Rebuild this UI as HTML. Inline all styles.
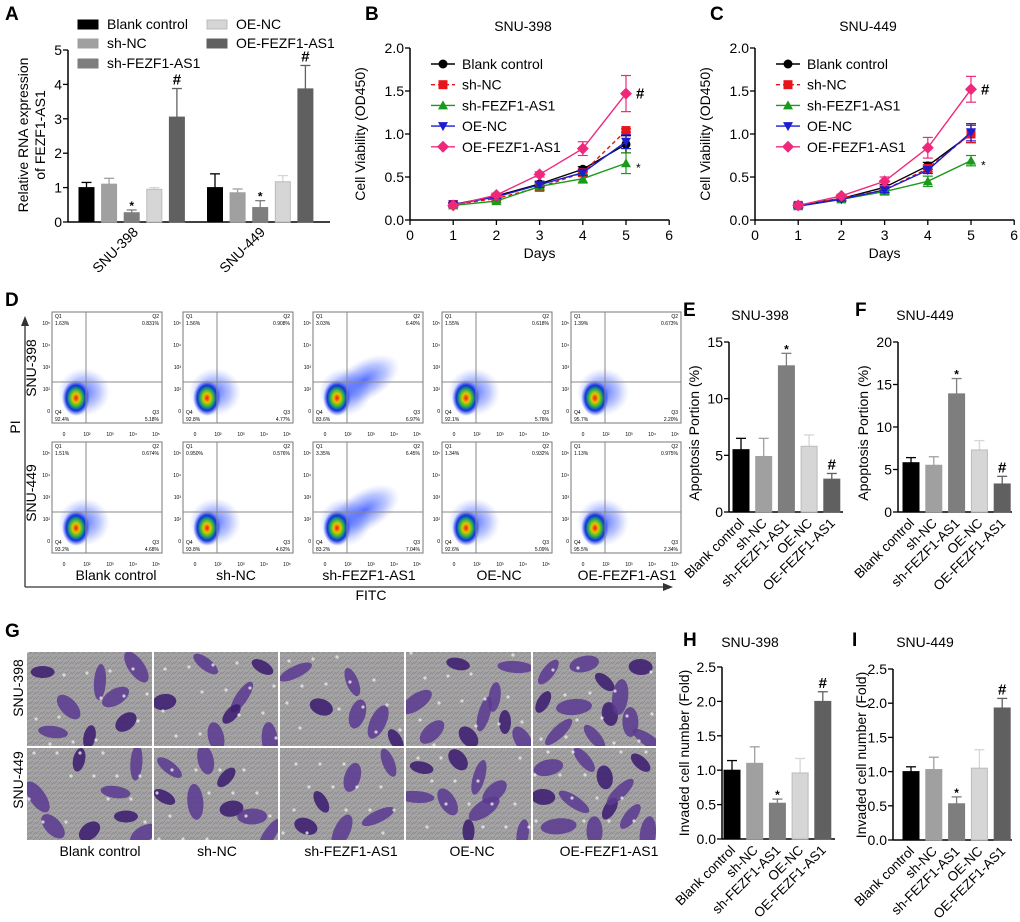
<!DOCTYPE html>
<html><head><meta charset="utf-8"><style>
body{margin:0;background:#fff}
svg{display:block;font-family:"Liberation Sans",sans-serif}
</style></head><body>
<svg id="fig" width="1020" height="922" viewBox="0 0 1020 922">
<defs>
<radialGradient id="dens" cx="50%" cy="50%" r="50%">
<stop offset="0" stop-color="#e02010"/><stop offset="0.25" stop-color="#f0c000"/><stop offset="0.45" stop-color="#30c040"/><stop offset="0.7" stop-color="#1030e0"/><stop offset="1" stop-color="#4060ff" stop-opacity="0"/>
</radialGradient>
<radialGradient id="cloud" cx="50%" cy="50%" r="50%">
<stop offset="0" stop-color="#2040ff" stop-opacity="0.75"/><stop offset="0.6" stop-color="#4060ff" stop-opacity="0.35"/><stop offset="1" stop-color="#8090ff" stop-opacity="0"/>
</radialGradient>
<pattern id="tex" width="6" height="5" patternUnits="userSpaceOnUse">
<rect width="6" height="5" fill="#a6a3a8"/><path d="M0 4 L3 1 M3 5 L6 2" stroke="#868a80" stroke-width="0.8"/>
</pattern>
</defs>
</svg>
<script>
// ---------- data ----------
const groups = ['Blank control','sh-NC','sh-FEZF1-AS1','OE-NC','OE-FEZF1-AS1'];
const barColors = ['#000000','#a0a0a0','#7e7e7e','#d6d6d6','#606060'];
const lineColors = ['#000000','#e8141c','#1a9a1a','#1c1cd0','#f0287c'];
const cellLines = ['SNU-398','SNU-449'];
const aVals398 = [1.0,1.1,0.27,0.95,3.05];
const aErr398 = [0.15,0.17,0.08,0.05,0.83];
const aVals449 = [1.0,0.85,0.42,1.17,3.87];
const aErr449 = [0.4,0.11,0.2,0.18,0.68];
const aTicks = [0,1,2,3,4,5];
const days = [1,2,3,4,5];
const dayTicks = [0,1,2,3,4,5,6];
const odTicks = [0,0.5,1.0,1.5,2.0];
const bBlank=[0.18,0.28,0.42,0.59,0.88], bShNC=[0.18,0.25,0.38,0.55,1.04], bShF=[0.17,0.22,0.39,0.48,0.66], bOeNC=[0.18,0.27,0.41,0.55,0.91], bOeF=[0.17,0.29,0.53,0.83,1.47];
const bErr=[[0.02,0.02,0.03,0.03,0.1],[0.02,0.02,0.04,0.04,0.02],[0.02,0.02,0.03,0.05,0.12],[0.02,0.02,0.03,0.03,0.08],[0.02,0.02,0.03,0.08,0.21]];
const cBlank=[0.17,0.25,0.38,0.63,1.0], cShNC=[0.17,0.25,0.35,0.6,1.0], cShF=[0.16,0.24,0.33,0.45,0.69], cOeNC=[0.16,0.24,0.35,0.58,1.02], cOeF=[0.17,0.28,0.45,0.84,1.52];
const cErr=[[0.02,0.02,0.03,0.04,0.1],[0.02,0.02,0.03,0.04,0.1],[0.02,0.02,0.03,0.06,0.06],[0.02,0.02,0.03,0.04,0.1],[0.02,0.02,0.05,0.12,0.15]];
const eVals=[5.5,4.9,12.9,5.8,2.9], eErr=[1.0,1.6,1.1,1.0,0.5], eTicks=[0,5,10,15];
const fVals=[5.8,5.5,13.9,7.3,3.3], fErr=[0.6,1.0,1.8,1.1,0.9], fTicks=[0,5,10,15,20];
const hVals=[1.0,1.1,0.52,0.96,2.0], hErr=[0.14,0.24,0.06,0.21,0.14];
const iVals=[1.0,1.03,0.53,1.05,1.93], iErr=[0.07,0.18,0.1,0.27,0.14];
const invTicks=[0,0.5,1.0,1.5,2.0,2.5], invTickLabels=['0.0','0.5','1.0','1.5','2.0','2.5'];
const marks=['','','*','','#'];
const flowQ1_398=['1.63%','1.56%','3.03%','1.55%','1.39%'], flowQ2_398=['0.831%','0.908%','6.40%','0.618%','0.673%'], flowQ3_398=['5.18%','4.77%','6.97%','5.76%','2.20%'], flowQ4_398=['92.4%','92.8%','83.6%','92.1%','95.7%'];
const flowQ1_449=['1.51%','0.950%','3.35%','1.34%','1.13%'], flowQ2_449=['0.674%','0.576%','6.45%','0.932%','0.975%'], flowQ3_449=['4.68%','4.62%','7.04%','5.09%','2.34%'], flowQ4_449=['93.2%','93.8%','83.2%','92.6%','95.5%'];

// ---------- helpers ----------
const NS='http://www.w3.org/2000/svg';
const svg=document.getElementById('fig');
function el(tag,attrs,parent,text){const e=document.createElementNS(NS,tag);for(const k in attrs)e.setAttribute(k,attrs[k]);if(text!==undefined)e.textContent=text;(parent||svg).appendChild(e);return e;}
function txt(x,y,s,size,anchor,parent,extra){const t=el('text',Object.assign({x:x,y:y,'font-size':size,'text-anchor':anchor||'start'},extra||{}),parent,s);return t;}
function panelLabel(x,y,s){const t=txt(x,y,s,19,'start',null,{'font-weight':'bold'});}

function barPanel(name,o){
  const g=el('g',{});
  
  
  const y=v=>o.y0-(v/o.ymax)*(o.y0-o.yTop);
  el('line',{x1:o.ax,y1:o.yTop,x2:o.ax,y2:o.y0,stroke:'#000','stroke-width':1.5},g);
  el('line',{x1:o.ax,y1:o.y0,x2:o.xEnd,y2:o.y0,stroke:'#000','stroke-width':1.5},g);
  o.ticks.forEach((t,i)=>{el('line',{x1:o.ax-5,y1:y(t),x2:o.ax,y2:y(t),stroke:'#000','stroke-width':1.3},g);
    const tl=txt(o.ax-6,y(t)+5,o.tickLabels?o.tickLabels[i]:String(t),14,'end',g);});
  o.vals.forEach((v,i)=>{
    const cx=o.cx0+i*o.dx;
    const top=y(v+o.errs[i]);
    el('line',{x1:cx,y1:y(v),x2:cx,y2:top,stroke:barColors[i],'stroke-width':1.3},g);
    el('line',{x1:cx-5,y1:top,x2:cx+5,y2:top,stroke:barColors[i],'stroke-width':1.3},g);
    const r=el('rect',{x:cx-o.bw/2,y:y(v),width:o.bw,height:o.y0-y(v),fill:barColors[i],stroke:i==3?'#bbb':barColors[i],'stroke-width':1},g);
    
    
    if(marks[i]){const m=txt(cx,top-4+(marks[i]=='*'?4:0),marks[i],marks[i]=='*'?12:15,'middle',g,{'font-weight':'bold'});}
    if(o.xlabels){const lx=cx+4,ly=o.y0+12;const t=txt(lx,ly,groups[i],13.5,'end',g,{transform:'rotate(-45 '+lx+' '+ly+')'});}
  });
  if(o.title){const t=txt(o.titleX,o.titleY,o.title,14,'middle',g);}
  const yl=txt(o.ylx,o.yly,o.ylabel,14,'middle',g,{transform:'rotate(-90 '+o.ylx+' '+o.yly+')'});
}

// Panel A
panelLabel(5,20,'A');
(function(){
  const g=el('g',{});
  const ax=68,y0=222,yTop=50,ymax=5;const y=v=>y0-(v/ymax)*(y0-yTop);
  el('line',{x1:ax,y1:yTop,x2:ax,y2:y0,stroke:'#000','stroke-width':1.5},g);
  el('line',{x1:ax,y1:y0,x2:330,y2:y0,stroke:'#000','stroke-width':1.5},g);
  aTicks.forEach(t=>{el('line',{x1:ax-5,y1:y(t),x2:ax,y2:y(t),stroke:'#000','stroke-width':1.3},g);const tl=txt(ax-6,y(t)+5,String(t),14,'end',g);});
  [[aVals398,aErr398,86.5],[aVals449,aErr449,215]].forEach((set,gi)=>{
    set[0].forEach((v,i)=>{const cx=set[2]+i*22.6,top=y(v+set[1][i]);
      el('line',{x1:cx,y1:y(v),x2:cx,y2:top,stroke:barColors[i],'stroke-width':1.3},g);
      el('line',{x1:cx-5,y1:top,x2:cx+5,y2:top,stroke:barColors[i],'stroke-width':1.3},g);
      const r=el('rect',{x:cx-7.5,y:y(v),width:15,height:y0-y(v),fill:barColors[i],stroke:i==3?'#bbb':barColors[i]},g);
      
      if(marks[i]){const m=txt(cx,top-4+(marks[i]=='*'?4:0),marks[i],marks[i]=='*'?12:15,'middle',g,{'font-weight':'bold'});}
    });
    const lx=gi?266:139,ly=233;const t=txt(lx,ly,cellLines[gi],14,'end',g,{transform:'rotate(-45 '+lx+' '+ly+')'});
  });
  const yl1=txt(28,135,'Relative RNA expression',14,'middle',g,{transform:'rotate(-90 28 135)'});
  const yl2=txt(45,135,'of FEZF1-AS1',14,'middle',g,{transform:'rotate(-90 45 135)'});
  const pos=[[78,24],[78,43],[78,63],[207,24],[207,43]];
  groups.forEach((n,i)=>{const lg=el('g',{},g);
    el('rect',{x:pos[i][0],y:pos[i][1]-4,width:20,height:9,fill:barColors[i],stroke:i==3?'#bbb':barColors[i]},lg);
    txt(pos[i][0]+29,pos[i][1]+5,n,14,'start',lg);});
})();

function linePanel(name,o){
  const g=el('g',{});
  const x=d=>o.ax+d*43.2,y=v=>220-v*86;
  el('line',{x1:o.ax,y1:48,x2:o.ax,y2:220,stroke:'#000','stroke-width':1.5},g);
  el('line',{x1:o.ax,y1:220,x2:x(6),y2:220,stroke:'#000','stroke-width':1.5},g);
  odTicks.forEach(t=>{el('line',{x1:o.ax-5,y1:y(t),x2:o.ax,y2:y(t),stroke:'#000','stroke-width':1.3},g);const tl=txt(o.ax-6,y(t)+5,t.toFixed(1),14,'end',g);});
  dayTicks.forEach(t=>{el('line',{x1:x(t),y1:220,x2:x(t),y2:225,stroke:'#000','stroke-width':1.3},g);const tl=txt(x(t),240,String(t),14,'middle',g);});
  const xt=txt(x(3),258,'Days',14,'middle',g);
  const yl=txt(o.ax-45,134,'Cell Viability (OD450)',14,'middle',g,{transform:'rotate(-90 '+(o.ax-45)+' 134)'});
  const tt=txt(o.ax+113,31,o.title,14,'middle',g);
  function marker(k,cx,cy,c,p){if(k==0)el('circle',{cx:cx,cy:cy,r:4.5,fill:c},p);else if(k==1)el('rect',{x:cx-4.5,y:cy-4.5,width:9,height:9,fill:c},p);else if(k==2)el('path',{d:`M${cx} ${cy-5}L${cx+5} ${cy+4}L${cx-5} ${cy+4}Z`,fill:c},p);else if(k==3)el('path',{d:`M${cx} ${cy+5}L${cx+5} ${cy-4}L${cx-5} ${cy-4}Z`,fill:c},p);else el('path',{d:`M${cx} ${cy-6}L${cx+6} ${cy}L${cx} ${cy+6}L${cx-6} ${cy}Z`,fill:c},p);}
  o.series.forEach((s,k)=>{const sg=el('g',{},g);
    el('polyline',{points:s.map((v,i)=>x(days[i])+','+y(v)).join(' '),fill:'none',stroke:lineColors[k],'stroke-width':1.4,'stroke-dasharray':k==1?'4 3':'none'},sg);
    s.forEach((v,i)=>{const e=o.errs[k][i];el('line',{x1:x(days[i]),y1:y(v-e),x2:x(days[i]),y2:y(v+e),stroke:lineColors[k],'stroke-width':1.2},sg);
      el('line',{x1:x(days[i])-5,y1:y(v+e),x2:x(days[i])+5,y2:y(v+e),stroke:lineColors[k],'stroke-width':1.2},sg);
      el('line',{x1:x(days[i])-5,y1:y(v-e),x2:x(days[i])+5,y2:y(v-e),stroke:lineColors[k],'stroke-width':1.2},sg);
      marker(k,x(days[i]),y(v),lineColors[k],sg);});
    const ly=64+k*20.7,lx=o.ax+33;const lg=el('g',{},g);
    el('line',{x1:lx-12,y1:ly,x2:lx+12,y2:ly,stroke:lineColors[k],'stroke-width':1.4,'stroke-dasharray':k==1?'4 3':'none'},lg);marker(k,lx,ly,lineColors[k],lg);txt(lx+19,ly+5,groups[k],14,'start',lg);
  });
  const h=txt(x(5)+10,y(o.series[4][4])+5,'#',15,'start',g,{'font-weight':'bold'});
  const st=txt(x(5)+10,y(o.series[2][4])+9,'*',12,'start',g);
}
panelLabel(365,20,'B');panelLabel(710,20,'C');
linePanel('panel-b-viability-snu398',{ax:410,title:'SNU-398',series:[bBlank,bShNC,bShF,bOeNC,bOeF],errs:bErr});
linePanel('panel-c-viability-snu449',{ax:755,title:'SNU-449',series:[cBlank,cShNC,cShF,cOeNC,cOeF],errs:cErr});

// Panel D flow
panelLabel(5,306,'D');
(function(){
  const g=el('g',{});
  const bx=[52,183,313,442,571],by=[312,442],bw=110,bh=111;
  const q=[[flowQ1_398,flowQ2_398,flowQ3_398,flowQ4_398],[flowQ1_449,flowQ2_449,flowQ3_449,flowQ4_449]];
  by.forEach((yy,r)=>bx.forEach((xx,c)=>{
    const p=el('g',{},g);
    el('rect',{x:xx,y:yy,width:bw,height:bh,fill:'#fff',stroke:'#777','stroke-width':1},p);
    el('ellipse',{cx:xx+32,cy:yy+80,rx:26,ry:24,fill:'url(#cloud)'},p);
    if(c==2) el('ellipse',{cx:xx+52,cy:yy+68,rx:38,ry:20,fill:'url(#cloud)',transform:`rotate(-30 ${xx+52} ${yy+68})`},p);
    el('ellipse',{cx:xx+24,cy:yy+86,rx:14,ry:18,fill:'url(#dens)'},p);
    el('line',{x1:xx+34,y1:yy,x2:xx+34,y2:yy+bh,stroke:'#888'},p);
    el('line',{x1:xx,y1:yy+70,x2:xx+bw,y2:yy+70,stroke:'#888'},p);
    txt(xx+3,yy+6,'Q1',5,'start',p);txt(xx+3,yy+13,q[r][0][c],5,'start',p);
    txt(xx+bw-3,yy+6,'Q2',5,'end',p);txt(xx+bw-3,yy+13,q[r][1][c],5,'end',p);
    txt(xx+bw-3,yy+102,'Q3',5,'end',p);txt(xx+bw-3,yy+109,q[r][2][c],5,'end',p);
    txt(xx+3,yy+102,'Q4',5,'start',p);txt(xx+3,yy+109,q[r][3][c],5,'start',p);
    ['10⁵','10⁴','10³','10²','0'].forEach((s,i)=>txt(xx-2,yy+13+i*22,s,5,'end',p));
    ['0','10²','10³','10⁴','10⁵'].forEach((s,i)=>txt(xx+12+i*23,yy+bh+13,s,5,'middle',p));
  }));
  const lc=[116,236,369,499,627];
  groups.forEach((n,i)=>{const t=txt(lc[i],580,n,14,'middle',g);});
  el('line',{x1:25,y1:587,x2:25,y2:322,stroke:'#333','stroke-width':1.3},g);
  el('path',{d:'M25 316 L21 326 L29 326Z',fill:'#333'},g);
  el('line',{x1:25,y1:587,x2:666,y2:587,stroke:'#333','stroke-width':1.3},g);
  el('path',{d:'M673 587 L663 583 L663 591Z',fill:'#333'},g);
  const f=txt(371,600,'FITC',14,'middle',g);
  const pi=txt(20,427,'PI',14,'middle',g,{transform:'rotate(-90 20 427)'});
  const s1=txt(36,368,'SNU-398',14,'middle',g,{transform:'rotate(-90 36 368)'});
  const s2=txt(36,493,'SNU-449',14,'middle',g,{transform:'rotate(-90 36 493)'});
})();

// Panels E,F
panelLabel(683,316,'E');panelLabel(855,316,'F');
barPanel('panel-e-apoptosis-snu398',{ax:729,y0:512,yTop:342,ymax:15,xEnd:843,ticks:eTicks,vals:eVals,errs:eErr,cx0:741,dx:22.7,bw:16,xlabels:true,title:'SNU-398',titleX:760,titleY:320,ylabel:'Apoptosis Portion (%)',ylx:699,yly:433});
barPanel('panel-f-apoptosis-snu449',{ax:898,y0:512,yTop:342,ymax:20,xEnd:1012,ticks:fTicks,vals:fVals,errs:fErr,cx0:911,dx:22.8,bw:16,xlabels:true,title:'SNU-449',titleX:925,titleY:320,ylabel:'Apoptosis Portion (%)',ylx:868,yly:433});

// Panel G invasion images
panelLabel(5,637,'G');
(function(){
  const g=el('g',{});
  const xs=[27,154,280,406,533,658],ys=[652,748,842];
  const blobs=[[15,20],[40,55],[70,30],[95,70],[25,80],[105,15],[60,85],[85,45],[10,50],[50,12],[112,88],[75,62]];
  const counts=[[8,7,6,9,12],[8,8,6,9,12]];
  for(let r=0;r<2;r++)for(let c=0;c<5;c++){
    const w=xs[c+1]-xs[c]-2,h=ys[r+1]-ys[r]-2;
    const p=el('svg',{x:xs[c],y:ys[r],width:w,height:h,viewBox:`${xs[c]} ${ys[r]} ${w} ${h}`,overflow:'hidden'},g);
    
    
    el('rect',{x:xs[c],y:ys[r],width:w,height:h,fill:'url(#tex)'},p);
    for(let b=0;b<counts[r][c];b++){const bb=blobs[(b+c*5+r*3)%12];
      const cx=xs[c]+bb[0]*w/120,cy=ys[r]+bb[1]*h/94;
      el('ellipse',{cx:cx,cy:cy,rx:12+(b%3)*3,ry:6+(b%2)*2,fill:b%3==0?'#3a1a70':'#5a3a90',opacity:0.85,transform:`rotate(${(b*47+c*30)%180} ${cx} ${cy})`},p);}
    for(let d=0;d<14;d++){el('circle',{cx:xs[c]+((d*37+c*11+r*7)%w),cy:ys[r]+((d*23+c*17+r*5)%h),r:1.6,fill:'#e8e8e8',opacity:0.8},p);}
  }
  const lc=[100,217,351,472,609];
  groups.forEach((n,i)=>{const t=txt(lc[i],856,n,14,'middle',g);});
  const s1=txt(23,688,'SNU-398',14,'middle',g,{transform:'rotate(-90 23 688)'});
  const s2=txt(23,780,'SNU-449',14,'middle',g,{transform:'rotate(-90 23 780)'});
})();

// Panels H,I
panelLabel(683,646,'H');panelLabel(852,646,'I');
barPanel('panel-h-invasion-snu398',{ax:722,y0:839,yTop:667,ymax:2.5,xEnd:835,ticks:invTicks,tickLabels:invTickLabels,vals:hVals,errs:hErr,cx0:732,dx:22.7,bw:16,xlabels:true,title:'SNU-398',titleX:750,titleY:647,ylabel:'Invaded cell number (Fold)',ylx:689,yly:753});
barPanel('panel-i-invasion-snu449',{ax:893,y0:840,yTop:669,ymax:2.5,xEnd:1012,ticks:invTicks,tickLabels:invTickLabels,vals:iVals,errs:iErr,cx0:911,dx:22.8,bw:16,xlabels:true,title:'SNU-449',titleX:925,titleY:647,ylabel:'Invaded cell number (Fold)',ylx:866,yly:755});
</script>
</body></html>
